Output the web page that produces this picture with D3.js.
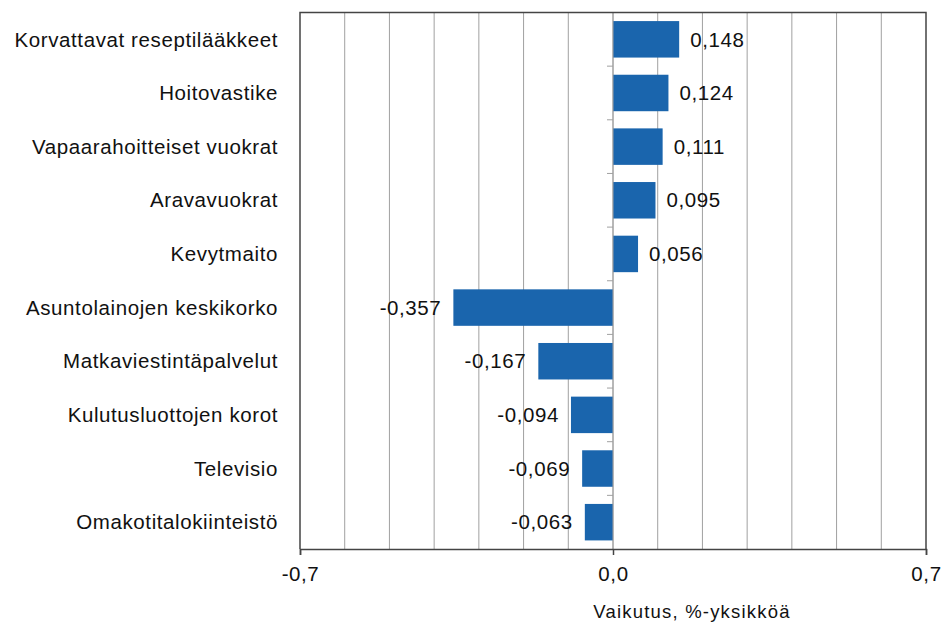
<!DOCTYPE html>
<html>
<head>
<meta charset="utf-8">
<script src="https://cdn.jsdelivr.net/npm/d3@7"></script>
<style>
  body { margin: 0; background: #fff; }
  text { font-family: Arial, 'Liberation Sans', sans-serif; fill: #111; }
</style>
</head>
<body>
<div id="chart"></div>
<script>
var categories = [
  'Korvattavat reseptilääkkeet',
  'Hoitovastike',
  'Vapaarahoitteiset vuokrat',
  'Aravavuokrat',
  'Kevytmaito',
  'Asuntolainojen keskikorko',
  'Matkaviestintäpalvelut',
  'Kulutusluottojen korot',
  'Televisio',
  'Omakotitalokiinteistö'
]
var values = [0.148, 0.124, 0.111, 0.095, 0.056, -0.357, -0.167, -0.094, -0.069, -0.063]
var tickValues = [-0.7, 0, 0.7]
var axisTitle = 'Vaikutus, %-yksikköä'

var width = 942
var height = 623
var plotLeft = 300
var plotRight = 926
var plotTop = 12.5
var plotBottom = 549
var labelSize = '20.5px'
var labelSpacing = '0.6px'

var fmt = function (v) { return d3.format('.3f')(v).replace('.', ',').replace('−', '-') }

var svg = d3.select('#chart').append('svg')
  .attr('width', width)
  .attr('height', height)

var x = d3.scaleLinear().domain([-0.7, 0.7]).range([plotLeft, plotRight])
var y = d3.scaleBand().domain(categories).range([plotTop, plotBottom]).paddingInner(0.32).paddingOuter(0.16)

// gridlines
svg.append('g')
  .selectAll('line')
  .data(d3.range(-6, 7).map(function (i) { return i / 10 }))
  .enter().append('line')
  .attr('x1', function (d) { return x(d) }).attr('x2', function (d) { return x(d) })
  .attr('y1', plotTop).attr('y2', plotBottom)
  .attr('stroke', '#a0a0a0')
  .attr('stroke-width', 1)

// bars
svg.append('g')
  .selectAll('rect')
  .data(values)
  .enter().append('rect')
  .attr('x', function (d) { return x(Math.min(0, d)) })
  .attr('y', function (d, i) { return y(categories[i]) })
  .attr('width', function (d) { return Math.abs(x(d) - x(0)) })
  .attr('height', y.bandwidth())
  .attr('fill', '#1a65ad')

// zero axis with category ticks
var step = y.step()
svg.append('line')
  .attr('x1', x(0)).attr('x2', x(0))
  .attr('y1', plotTop).attr('y2', plotBottom)
  .attr('stroke', '#a0a0a0')
svg.append('g')
  .selectAll('line')
  .data(d3.range(1, categories.length))
  .enter().append('line')
  .attr('x1', x(0) - 6).attr('x2', x(0))
  .attr('y1', function (i) { return plotTop + i * step }).attr('y2', function (i) { return plotTop + i * step })
  .attr('stroke', '#a0a0a0')

// frame
svg.append('path')
  .attr('d', 'M' + plotLeft + ',' + plotBottom + 'V' + plotTop + 'H' + plotRight + 'V' + plotBottom)
  .attr('fill', 'none')
  .attr('stroke', '#444')
  .attr('stroke-width', 1.5)

// bottom axis
var xAxis = d3.axisBottom(x)
  .tickValues(tickValues)
  .tickSize(6)
  .tickFormat(function (d) { return d3.format('.1f')(d).replace('.', ',').replace('−', '-') })
var gx = svg.append('g')
  .attr('transform', 'translate(0,' + plotBottom + ')')
  .call(xAxis)
gx.select('.domain').attr('stroke', '#444').attr('stroke-width', 1.5)
gx.selectAll('.tick line').attr('stroke', '#444').attr('stroke-width', 1.5)
gx.selectAll('.tick text')
  .attr('y', 25.5)
  .attr('dy', '0.32em')
  .style('font-size', labelSize)
  .style('letter-spacing', labelSpacing)
  .style('font-family', 'Arial, sans-serif')
  .attr('fill', '#111')

// category labels
svg.append('g')
  .selectAll('text')
  .data(categories)
  .enter().append('text')
  .attr('x', 278)
  .attr('y', function (d) { return y(d) + y.bandwidth() / 2 })
  .attr('dy', '0.35em')
  .attr('text-anchor', 'end')
  .style('font-size', labelSize)
  .style('letter-spacing', labelSpacing)
  .text(function (d) { return d })

// value labels
svg.append('g')
  .selectAll('text')
  .data(values)
  .enter().append('text')
  .attr('x', function (d) { return d >= 0 ? x(d) + 11 : x(d) - 12 })
  .attr('y', function (d, i) { return y(categories[i]) + y.bandwidth() / 2 })
  .attr('dy', '0.35em')
  .attr('text-anchor', function (d) { return d >= 0 ? 'start' : 'end' })
  .style('font-size', labelSize)
  .style('letter-spacing', labelSpacing)
  .text(function (d) { return fmt(d) })

// axis title
svg.append('text')
  .attr('x', 692)
  .attr('y', 618)
  .attr('text-anchor', 'middle')
  .style('font-size', '18.5px')
  .style('letter-spacing', '1.2px')
  .text(axisTitle)
</script>
</body>
</html>
